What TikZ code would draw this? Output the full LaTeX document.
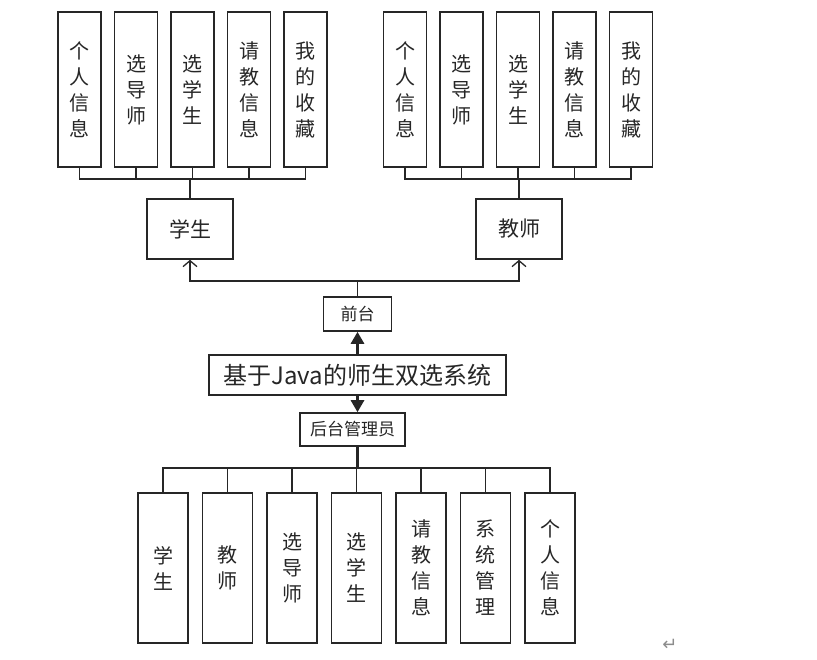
\documentclass[tikz,border=0pt]{standalone}
\usepackage{fontspec}
\setmainfont{Noto Sans CJK SC}
\newfontfamily\symfont{DejaVu Sans}
\usetikzlibrary{arrows.meta,positioning}
\tikzset{
    every node/.style={font=\fontsize{20}{26}\selectfont,text=black!85},
    leaf node/.style={draw=black!85,line width=1.6pt,inner sep=0pt,minimum width=43pt,minimum height=155pt,align=center},
    low node/.style={leaf node,minimum width=50pt,minimum height=150pt},
    role node/.style={draw=black!85,line width=1.6pt,inner sep=0pt,minimum width=86pt,minimum height=60pt,font=\fontsize{21}{26}\selectfont},
    small node/.style={draw=black!85,line width=1.6pt,inner sep=0pt,minimum height=34pt,font=\fontsize{17}{20}\selectfont},
    bus/.style={line width=1.3pt,draw=black!85},
    trunk/.style={line width=2.8pt,draw=black!85}
}

\begin{document}
\begin{tikzpicture}[x=1pt,y=-1pt,node distance=11.9pt]
    \useasboundingbox (0,0) rectangle (817,659);

    % student side
    \node[leaf node] (s1) at (79.5,89.5) {个\\人\\信\\息};
    \node[leaf node] (s2) [right =of s1] {选\\导\\师};
    \node[leaf node] (s3) [right =of s2] {选\\学\\生};
    \node[leaf node] (s4) [right =of s3] {请\\教\\信\\息};
    \node[leaf node] (s5) [right =of s4] {我\\的\\收\\藏};
    \node[role node] (stu) at (190,229) {学生};

    % teacher side
    \node[leaf node] (t1) at (405,89.5) {个\\人\\信\\息};
    \node[leaf node] (t2) [right =of t1] {选\\导\\师};
    \node[leaf node] (t3) [right =of t2] {选\\学\\生};
    \node[leaf node] (t4) [right =of t3] {请\\教\\信\\息};
    \node[leaf node] (t5) [right =of t4] {我\\的\\收\\藏};
    \node[role node] (tea) at (519,229) {教师};

    % middle
    \node[small node,minimum width=68pt] (front) at (357.5,314) {前台};
    \node[draw=black!85,line width=1.6pt,inner sep=0pt,minimum width=297pt,minimum height=40pt,font=\fontsize{24}{28}\selectfont] (main) at (357.5,375) {基于Java的师生双选系统};
    \node[small node,minimum width=105pt,minimum height=33pt] (back) at (352.5,429.5) {后台管理员};

    % admin side
    \node[low node] (a1) at (163,568) {学\\生};
    \node[low node] (a2) [right =12.9pt of a1] {教\\师};
    \node[low node] (a3) [right =12.9pt of a2] {选\\导\\师};
    \node[low node] (a4) [right =12.9pt of a3] {选\\学\\生};
    \node[low node] (a5) [right =12.9pt of a4] {请\\教\\信\\息};
    \node[low node] (a6) [right =12.9pt of a5] {系\\统\\管\\理};
    \node[low node] (a7) [right =12.9pt of a6] {个\\人\\信\\息};

    \node[font=\symfont\fontsize{18}{18}\selectfont,text=black!45] (ret) at (670,645) {↵};

    % connectors
    \coordinate (sb) at (190,179);
    \coordinate (tb) at (519,179);
    \foreach \i in {1,...,5} {
        \draw[bus] (s\i.south) |- (sb);
        \draw[bus] (t\i.south) |- (tb);
    }
    \draw[trunk] (sb) -- (stu.north);
    \draw[trunk] (tb) -- (tea.north);

    \coordinate (fb) at (357.5,281);
    \draw[bus] (front.north) -- (fb);
    \draw[bus,-{Straight Barb[length=6pt,width=14pt]}] (fb) -| (stu.south);
    \draw[bus,-{Straight Barb[length=6pt,width=14pt]}] (fb) -| (tea.south);

    \draw[trunk,-{Triangle[length=12pt,width=13pt]}] (main.north) -- (front.south);
    \draw[trunk,-{Triangle[length=12pt,width=13pt]}] (main.south) -- (main.south |- back.north);

    \coordinate (bb) at (357.5,468);
    \draw[trunk] (main.south |- back.south) -- (bb);
    \foreach \i in {1,...,7}
        \draw[bus] (a\i.north) |- (bb);
\end{tikzpicture}
\end{document}
